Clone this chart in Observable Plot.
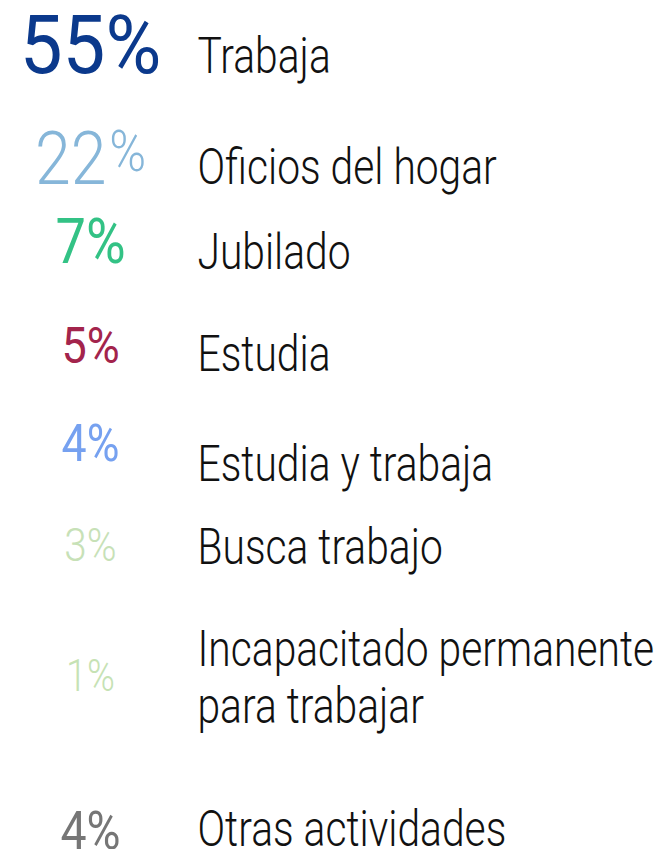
<!DOCTYPE html>
<html>
<head>
<meta charset="utf-8">
<script src="https://cdn.jsdelivr.net/npm/d3@7"></script>
<script src="https://cdn.jsdelivr.net/npm/@observablehq/plot@0.6"></script>
<style>
  html, body { margin: 0; padding: 0; background: #fff; }
  svg { display: block; }
</style>
</head>
<body>
<div id="chart"></div>
<script>
// ---- data ----
const categories = [
  "Trabaja",
  "Oficios del hogar",
  "Jubilado",
  "Estudia",
  "Estudia y trabaja",
  "Busca trabajo",
  "Incapacitado permanente\npara trabajar",
  "Otras actividades"
];
const values = [55, 22, 7, 5, 4, 3, 1, 4];

// ---- styling / layout (not data) ----
const colors = ["#0b398c", "#86b6d9", "#33c285", "#a3244c", "#76a1f0", "#c7e1b7", "#c6e2b4", "#767676"];
const pctSizes = [82, 75, 63, 50, 52, 47, 45, 54];
const pctWeights = [400, 300, 400, 400, 400, 300, 300, 400];
const pctStretch = [0.93, 0.86, 0.86, 0.9, 0.86, 0.86, 0.84, 0.86];
const pctNudge = [0, 0, -6, -8, -20, -3, -32, 3];
const rowBaselines = [72, 183, 268, 370, 480, 563, 722, 845];
const labelStretch = 0.815;

const rows = categories.map((c, i) => ({i, category: c, value: values[i]}));

const pctMarks = rows.map((d, i) => Plot.text([d], {
  y: "i",
  text: r => `${r.value}%`,
  frameAnchor: "left",
  dx: 90,
  dy: pctNudge[i],
  textAnchor: "middle",
  lineAnchor: "bottom",
  fill: colors[i],
  fontSize: pctSizes[i],
  fontWeight: pctWeights[i],
  fontFamily: "Roboto"
}));

const chart = Plot.plot({
  width: 667,
  height: 849,
  margin: 0,
  x: {axis: null},
  y: {axis: null, type: "linear", domain: rows.map(d => d.i), range: rowBaselines},
  marks: [
    ...pctMarks,
    Plot.text(rows, {
      y: "i",
      text: "category",
      frameAnchor: "left",
      dx: 197,
      textAnchor: "start",
      lineAnchor: "bottom",
      lineHeight: 1.14,
      fill: "#111",
      fontSize: 50,
      fontWeight: 300,
      fontFamily: "Roboto, sans-serif"
    })
  ]
});

document.getElementById("chart").appendChild(chart);

// condense the label font (reference uses a condensed face)
chart.querySelectorAll('g[font-family="Roboto, sans-serif"] text').forEach(t => {
  t.setAttribute("transform", (t.getAttribute("transform") || "") + ` scale(${labelStretch},1)`);
});
// condense percentages; the 22% has a smaller raised "%" sign
chart.querySelectorAll('g[font-family="Roboto"] text').forEach((t, i) => {
  t.setAttribute("transform", (t.getAttribute("transform") || "") + ` scale(${pctStretch[i]},1)`);
  if (i === 1) {
    const s = t.textContent;
    t.textContent = s.slice(0, -1);
    const ts = document.createElementNS("http://www.w3.org/2000/svg", "tspan");
    ts.setAttribute("font-size", 58);
    ts.setAttribute("dy", -13);
    ts.setAttribute("dx", 3);
    ts.textContent = "%";
    t.appendChild(ts);
  }
});
</script>
</body>
</html>
